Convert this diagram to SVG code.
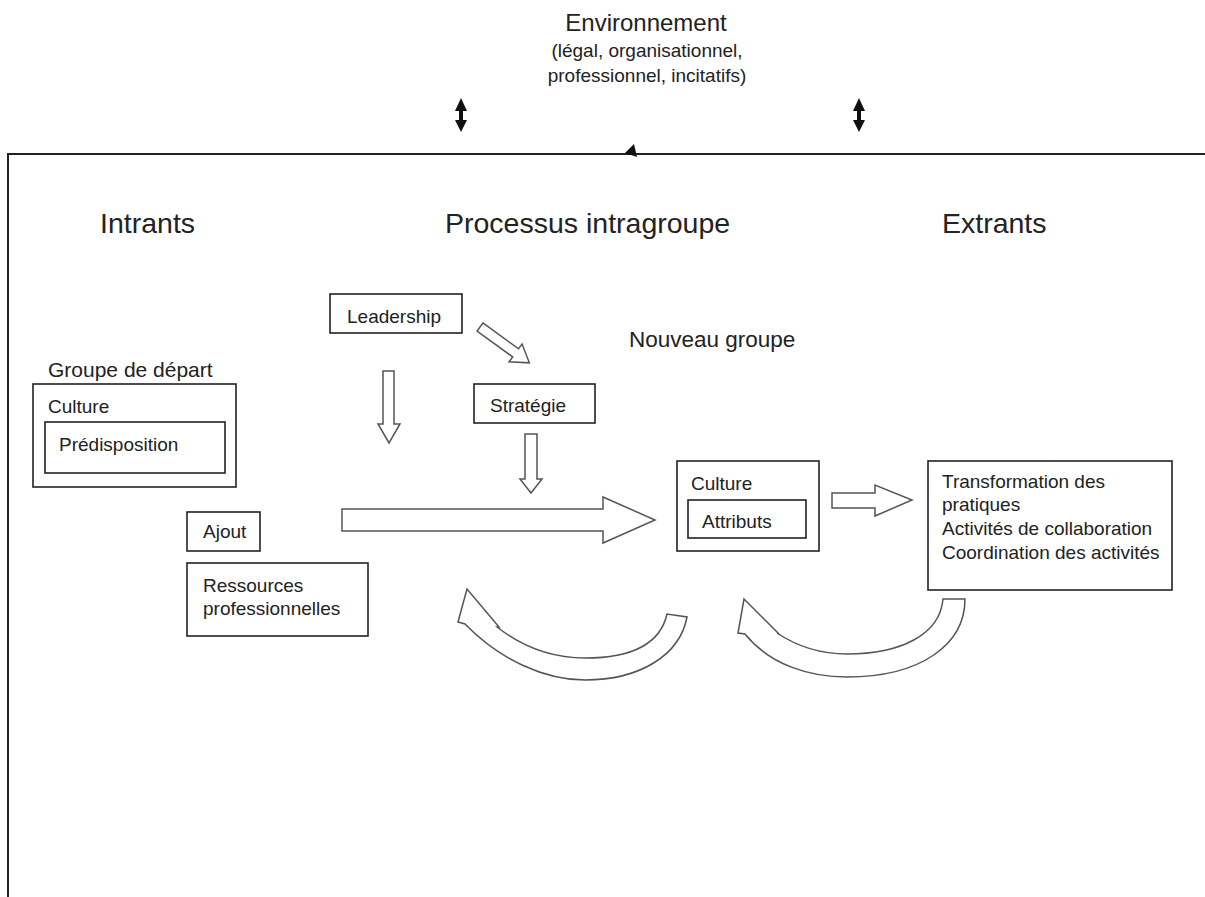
<svg xmlns="http://www.w3.org/2000/svg" width="1205" height="897" viewBox="0 0 1205 897">
<style>
text{font-family:"Liberation Sans",Arial,sans-serif;fill:#222;}
.t{font-size:19px;}
.h{font-size:28.5px;}
.g{font-size:21px;}
.box{fill:none;stroke:#222;stroke-width:1.6;}
.ar{fill:#fff;stroke:#555;stroke-width:1.5;stroke-linejoin:miter;}
.blk{fill:#111;stroke:none;}
</style>
<rect width="1205" height="897" fill="#fff"/>
<g id="environment">
<text x="646" y="31" font-size="24" text-anchor="middle">Environnement</text>
<text x="647" y="57" font-size="19" text-anchor="middle">(légal, organisationnel,</text>
<text x="647" y="82" font-size="19" text-anchor="middle">professionnel, incitatifs)</text>
</g>
<g id="frame">
<path d="M8,897 V154 H1205" fill="none" stroke="#222" stroke-width="2"/>
</g>
<g id="headers">
<text x="100" y="233" class="h">Intrants</text>
<text x="445" y="233" class="h">Processus intragroupe</text>
<text x="942" y="233" class="h">Extrants</text>
</g>
<g id="groupe-depart">
<text x="48" y="377" class="g">Groupe de départ</text>
<rect x="33" y="384" width="203" height="103" class="box"/>
<text x="48" y="413" class="t">Culture</text>
</g>
<g id="predisposition">
<rect x="45" y="422" width="180" height="51" class="box"/>
<text x="59" y="451" class="t">Prédisposition</text>
</g>
<g id="ajout">
<rect x="187" y="512" width="73" height="39" class="box"/>
<text x="203" y="538" class="t">Ajout</text>
</g>
<g id="ressources">
<rect x="187" y="563" width="181" height="73" class="box"/>
<text x="203" y="592" class="t">Ressources</text>
<text x="203" y="615" class="t">professionnelles</text>
</g>
<g id="leadership">
<rect x="330" y="294" width="132" height="39" class="box"/>
<text x="347" y="323" class="t">Leadership</text>
</g>
<g id="strategie">
<rect x="474" y="384" width="121" height="39" class="box"/>
<text x="490" y="412" class="t">Stratégie</text>
</g>
<g id="nouveau-groupe">
<text x="629" y="347" font-size="22.5">Nouveau groupe</text>
<rect x="677" y="461" width="142" height="90" class="box"/>
<text x="691" y="490" class="t">Culture</text>
</g>
<g id="attributs">
<rect x="688" y="500" width="118" height="38" class="box"/>
<text x="702" y="528" class="t">Attributs</text>
</g>
<g id="extrants-box">
<rect x="928" y="461" width="244" height="129" class="box"/>
<text x="942" y="488" class="t">Transformation des</text>
<text x="942" y="511" class="t">pratiques</text>
<text x="942" y="535" class="t">Activités de collaboration</text>
<text x="942" y="559" class="t">Coordination des activités</text>
</g>
<g id="connectors">
<path class="blk" d="M461,98 L455,111 L459,111 L459,120 L455,120 L461,132 L467,120 L463,120 L463,111 L467,111 Z"/>
<path class="blk" d="M859,98 L853,111 L857,111 L857,120 L853,120 L859,132 L865,120 L861,120 L861,111 L865,111 Z"/>
<path class="blk" d="M625,153 L634,144 L637,157 Z"/>
<path class="ar" d="M383,371 H394 V424 H400 L389,443 L378,424 H383 Z"/>
<path class="ar" d="M525,434 H537 V479 H542 L531,493 L520,479 H525 Z"/>
<path class="ar" transform="translate(480,327) rotate(36)" d="M0,-5 H44 V-11 L61,0 L44,11 V5 H0 Z"/>
<path class="ar" d="M342,509 H603 V497 L655,520 L603,543 V531 H342 Z"/>
<path class="ar" d="M832,493 H875 V485 L912,500 L875,516 V508 H832 Z"/>
<path class="ar" d="M467,589 L458,622 L465,624 C500,660 545,680 585,680 C640,680 680,655 687,617 L667,614 C660,645 630,658 585,658 C550,658 520,645 497,627 L499,627 Z"/>
<path class="ar" d="M744,599 L738,633 L745,634 C770,665 810,677 847,677 C920,677 965,645 965,599 L943,599 C940,635 900,654 847,654 C818,654 795,645 777,633 L780,635 Z"/>
</g>
</svg>
